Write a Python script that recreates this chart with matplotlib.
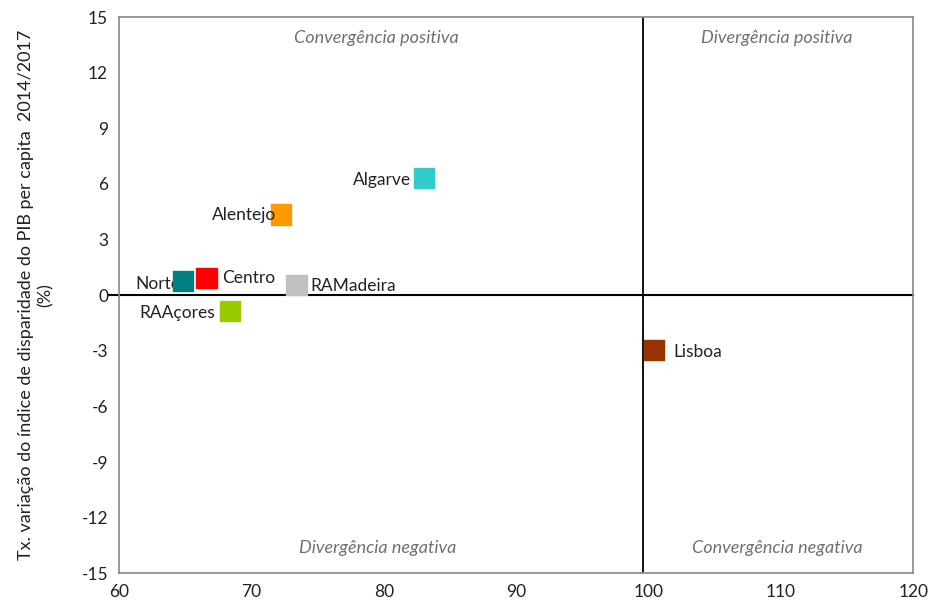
import numpy as np
import matplotlib.pyplot as plt

plt.rcParams['font.family'] = ['Lato', 'DejaVu Sans']
plt.rcParams['axes.unicode_minus'] = False

#Input data
regions = ['Norte', 'Centro', 'RAMadeira', 'RAAçores', 'Alentejo', 'Algarve', 'Lisboa']
pib_index = [64.8, 66.6, 73.4, 68.4, 72.2, 83.0, 100.4]
var_rate = [0.77, 0.91, 0.57, -0.87, 4.35, 6.31, -2.97]
colors = ['#008080', '#FF0000', '#C0C0C0', '#99CC00', '#FF9900', '#33CCCC', '#993300']
ref_x = 99.6

#label placement: offset in points and alignment
offsets = {'Norte': (-2, -2, 'right'), 'Centro': (11, 0, 'left'), 'RAMadeira': (10, -1, 'left'),
           'RAAçores': (-11, -1, 'right'), 'Alentejo': (-3, 0, 'right'),
           'Algarve': (-9, -1, 'right'), 'Lisboa': (14, -1, 'left')}

fig = plt.figure(figsize=(9.31, 6.08), dpi=100)
ax = fig.add_axes([0.128, 0.057, 0.853, 0.915])

ax.scatter(pib_index, var_rate, s=210, marker='s', c=colors, zorder=3)

for name, x, y in zip(regions, pib_index, var_rate):
    dx, dy, ha = offsets[name]
    ax.annotate(name, (x, y), textcoords="offset points", xytext=(dx, dy),
                ha=ha, va='center', fontsize=12.5, color='#222222', zorder=4 if name == 'Alentejo' else 2)

#quadrant lines
ax.axhline(0, color='black', lw=1.5, xmin=-0.013, clip_on=False, zorder=1)
ax.axvline(ref_x, color='black', lw=1.3, zorder=1)

#quadrant names
qstyle = dict(fontsize=13, style='italic', color='#707070', ha='center', va='center')
ax.text(79.4, 13.85, 'Convergência positiva', **qstyle)
ax.text(109.7, 13.85, 'Divergência positiva', **qstyle)
ax.text(79.5, -13.65, 'Divergência negativa', **qstyle)
ax.text(109.7, -13.65, 'Convergência negativa', **qstyle)

ax.set_xlim(60, 120)
ax.set_ylim(-15, 15)
ax.set_xticks(np.arange(60, 121, 10))
ax.set_yticks(np.arange(-15, 16, 3))
ax.tick_params(length=0, labelsize=12.5, labelcolor='#222222', pad=8)
for s in ax.spines.values():
    s.set_color('#888888')
    s.set_linewidth(1.2)

ax.set_ylabel('Tx. variação do índice de disparidade do PIB per capita  2014/2017\n(%)',
              fontsize=13, color='#222222', linespacing=1.25, labelpad=20)

plt.savefig('out.png', dpi=100)
